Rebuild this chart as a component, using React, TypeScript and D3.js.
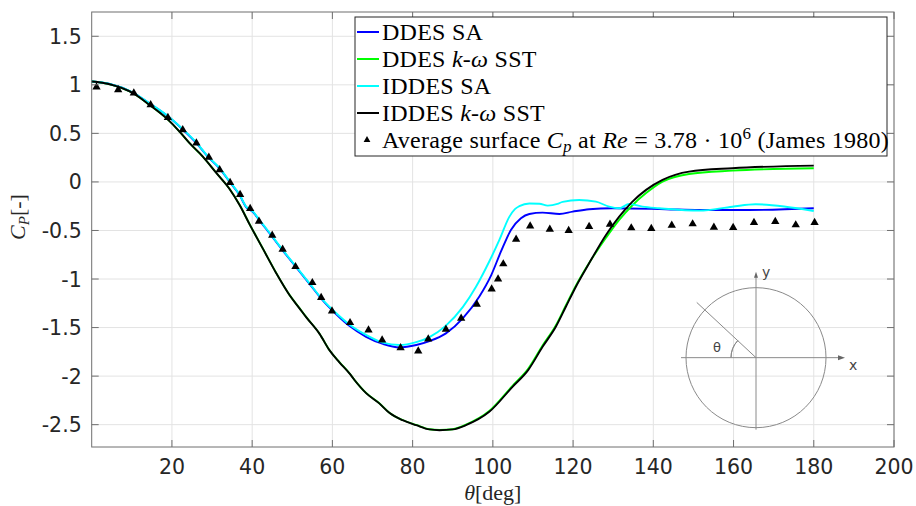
import React from 'react';
import * as d3 from 'd3';

// ---------------- data ----------------
const ddesSaTheta = [0, 4.5, 10.3, 14.4, 18.6, 22.7, 26.1, 29.0, 31.9, 34.4, 36.9, 38.5, 40.2, 41.8, 43.5, 47.6, 51.0, 54.3, 57.6, 60.9, 64.3, 68.4, 72.6, 76.7, 80.9, 84.2, 88.3, 92.5, 96.6, 99.6, 102.0, 104.5, 107.0, 109.1, 112.4, 116.6, 119.9, 124.0, 129.8, 143.1, 151.5, 163.9, 180];
const ddesSaCp = [1.034, 1.008, 0.918, 0.808, 0.688, 0.54, 0.40, 0.257, 0.137, 0.0, -0.138, -0.26, -0.31, -0.396, -0.485, -0.705, -0.88, -1.05, -1.22, -1.36, -1.485, -1.595, -1.668, -1.704, -1.68, -1.64, -1.56, -1.405, -1.182, -0.959, -0.719, -0.495, -0.374, -0.330, -0.316, -0.330, -0.306, -0.281, -0.271, -0.281, -0.289, -0.289, -0.271];

const iddesSaTheta = [0, 4.5, 10.3, 14.4, 18.6, 22.7, 26.1, 29.0, 31.9, 34.4, 36.9, 38.5, 40.2, 41.8, 43.5, 47.6, 51.0, 54.3, 57.6, 60.9, 64.3, 68.4, 72.6, 76.7, 80.9, 84.2, 88.3, 92.5, 95.8, 99.1, 101.6, 104.1, 105.5, 106.6, 109.1, 111.6, 113.7, 116.1, 117.4, 121.5, 125.7, 129.0, 131.5, 134.0, 137.3, 141.5, 151.5, 159.7, 165.5, 173.0, 180];
const iddesSaCp = [1.034, 1.010, 0.921, 0.811, 0.691, 0.543, 0.405, 0.261, 0.141, 0.003, -0.134, -0.255, -0.306, -0.392, -0.48, -0.70, -0.875, -1.045, -1.215, -1.35, -1.47, -1.575, -1.655, -1.68, -1.65, -1.598, -1.48, -1.29, -1.08, -0.82, -0.60, -0.36, -0.28, -0.25, -0.222, -0.225, -0.244, -0.227, -0.205, -0.186, -0.203, -0.255, -0.271, -0.227, -0.255, -0.271, -0.296, -0.255, -0.230, -0.255, -0.299];

const iddesSstTheta = [0, 4.5, 10.3, 14.4, 18.6, 21.9, 24.4, 27.7, 31.1, 34.4, 36.9, 39.4, 42.7, 46.0, 49.3, 51.8, 53.5, 56.8, 59.3, 61.8, 64.3, 65.5, 68.4, 71.7, 74.2, 77.5, 80.9, 84.2, 86.7, 90.0, 93.3, 99.1, 104.9, 108.8, 112.4, 115.7, 118.2, 120.7, 124.0, 128.2, 131.5, 134.8, 138.2, 142.3, 148.9, 159.7, 180];
const iddesSstCp = [1.034, 1.006, 0.914, 0.794, 0.657, 0.519, 0.399, 0.261, 0.090, -0.075, -0.24, -0.44, -0.69, -0.94, -1.165, -1.302, -1.395, -1.565, -1.735, -1.86, -1.975, -2.04, -2.175, -2.281, -2.378, -2.454, -2.505, -2.549, -2.557, -2.549, -2.505, -2.368, -2.110, -1.938, -1.698, -1.492, -1.286, -1.079, -0.838, -0.546, -0.358, -0.203, -0.082, 0.021, 0.106, 0.141, 0.168];

const ddesSstTheta = [0, 4.5, 10.3, 14.4, 18.6, 21.9, 24.4, 27.7, 31.1, 34.4, 36.9, 39.4, 42.7, 46.0, 49.3, 51.8, 53.5, 56.8, 59.3, 61.8, 64.3, 65.5, 68.4, 71.7, 74.2, 77.5, 80.9, 84.2, 86.7, 90.0, 93.3, 99.1, 104.9, 108.8, 112.4, 115.7, 118.2, 120.7, 124.0, 128.2, 131.5, 134.8, 138.2, 142.3, 148.9, 159.7, 180];
const ddesSstCp = [1.034, 1.006, 0.914, 0.794, 0.657, 0.519, 0.399, 0.261, 0.092, -0.073, -0.238, -0.438, -0.688, -0.938, -1.163, -1.300, -1.393, -1.563, -1.733, -1.858, -1.973, -2.038, -2.173, -2.279, -2.376, -2.452, -2.503, -2.547, -2.555, -2.547, -2.500, -2.360, -2.100, -1.925, -1.685, -1.478, -1.272, -1.068, -0.835, -0.575, -0.390, -0.240, -0.115, 0.003, 0.082, 0.116, 0.141];

const expTheta = [1.2, 6.6, 10.5, 14.7, 19.0, 22.7, 26.1, 29.2, 31.9, 34.5, 37.0, 39.5, 41.7, 45.0, 47.6, 50.8, 55.0, 57.2, 59.9, 64.4, 69.0, 72.4, 77.0, 81.4, 83.9, 88.3, 92.1, 96.0, 99.7, 101.3, 102.6, 105.8, 109.3, 114.2, 118.9, 124.0, 129.2, 134.5, 139.5, 144.6, 149.8, 155.1, 159.9, 165.1, 170.4, 175.5, 180.2];
const expCp = [0.976, 0.948, 0.914, 0.794, 0.663, 0.536, 0.399, 0.254, 0.124, -0.007, -0.131, -0.275, -0.405, -0.550, -0.694, -0.873, -1.038, -1.192, -1.330, -1.450, -1.526, -1.629, -1.708, -1.742, -1.619, -1.519, -1.405, -1.261, -1.103, -1.0, -0.845, -0.591, -0.454, -0.488, -0.502, -0.460, -0.436, -0.474, -0.481, -0.447, -0.433, -0.467, -0.471, -0.419, -0.409, -0.443, -0.419];

const xTicks = [20, 40, 60, 80, 100, 120, 140, 160, 180, 200];
const yTicks = [-2.5, -2, -1.5, -1, -0.5, 0, 0.5, 1, 1.5];
const seriesColors = ['#0000ff', '#00ff00', '#00ffff', '#000000'];

// inset sketch anchor (data units)
const insetCenter = [165.6, -1.81];

const W = 916;
const H = 506;
const PL = 91.7, PR = 894, PT = 12, PB = 447;
const serif = "'Liberation Serif', 'Times New Roman', serif";
const sans = "'DejaVu Sans', sans-serif";

export default function App() {
  const x = d3.scaleLinear().domain([0, 200]).range([PL, PR]);
  const y = d3.scaleLinear().domain([-2.73, 1.75]).range([PB, PT]);

  const mk = (th: number[], cp: number[]) =>
    d3.line<number>().x((_, i) => x(th[i])).y((d) => y(d)).curve(d3.curveMonotoneX)(cp) || '';

  const series = [
    { th: ddesSaTheta, cp: ddesSaCp, color: seriesColors[0] },
    { th: ddesSstTheta, cp: ddesSstCp, color: seriesColors[1] },
    { th: iddesSaTheta, cp: iddesSaCp, color: seriesColors[2] },
    { th: iddesSstTheta, cp: iddesSstCp, color: seriesColors[3] },
  ];

  const tri = d3.symbol().type(d3.symbolTriangle).size(30)() || '';
  const tickLen = 7;
  const axisColor = '#6f6f6f';
  const gridColor = '#e3e3e3';

  // legend
  const LX = 355, LY = 17, LW = 532, LH = 139;
  const rowY = (i: number) => LY + 15 + i * 27;

  // inset
  const cx = x(insetCenter[0]);
  const cy = y(insetCenter[1]);
  const R = 70;
  const ang = (137 * Math.PI) / 180;
  const arc = d3.arc()({ innerRadius: 25, outerRadius: 25, startAngle: -Math.PI / 2, endAngle: -Math.PI / 2 + (180 - 137) * Math.PI / 180 } as any) || '';

  return (
    <svg width={W} height={H} style={{ position: 'absolute', left: 0, top: 0, background: '#fff' }}>
      <rect x={0} y={0} width={W} height={H} fill="#fff" />
      {/* grid */}
      {xTicks.map((t) => (
        <line key={'gx' + t} x1={x(t)} x2={x(t)} y1={PT} y2={PB} stroke={gridColor} strokeWidth={1} />
      ))}
      {yTicks.map((t) => (
        <line key={'gy' + t} x1={PL} x2={PR} y1={y(t)} y2={y(t)} stroke={gridColor} strokeWidth={1} />
      ))}

      {/* inset sketch */}
      <g stroke="#8a8a8a" strokeWidth={1} fill="none">
        <circle cx={cx} cy={cy} r={R} />
        <line x1={cx - 75} x2={cx + 84} y1={cy} y2={cy} />
        <line x1={cx} x2={cx} y1={cy + 72} y2={cy - 82} />
        <line x1={cx} y1={cy} x2={cx + 81 * Math.cos(ang)} y2={cy - 81 * Math.sin(ang)} />
        <path d={arc} transform={`translate(${cx},${cy})`} />
      </g>
      <path d={`M${cx + 89},${cy} L${cx + 82},${cy - 2.5} L${cx + 82},${cy + 2.5} Z`} fill="#666" />
      <path d={`M${cx},${cy - 86} L${cx - 2},${cy - 80} L${cx + 2},${cy - 80} Z`} fill="#666" />
      <text x={cx + 93} y={cy + 12} fontFamily={sans} fontSize={14} fill="#444">x</text>
      <text x={cx + 6} y={cy - 81} fontFamily={sans} fontSize={14} fill="#444">y</text>
      <text x={cx - 43} y={cy - 6} fontFamily={sans} fontSize={13} fill="#444">θ</text>

      {/* curves */}
      {series.map((s, i) => (
        <path key={'s' + i} d={mk(s.th, s.cp)} fill="none" stroke={s.color} strokeWidth={1.9} strokeLinejoin="round" />
      ))}
      {/* experiment */}
      {expTheta.map((t, i) => (
        <path key={'e' + i} d={tri} transform={`translate(${x(t)},${y(expCp[i])})`} fill="#000" />
      ))}

      {/* frame */}
      <rect x={PL} y={PT} width={PR - PL} height={PB - PT} fill="none" stroke={axisColor} strokeWidth={1} />
      {xTicks.map((t) => (
        <g key={'tx' + t}>
          <line x1={x(t)} x2={x(t)} y1={PB} y2={PB - tickLen} stroke={axisColor} />
          <line x1={x(t)} x2={x(t)} y1={PT} y2={PT + tickLen} stroke={axisColor} />
          <text x={x(t)} y={PB + 27} textAnchor="middle" fontFamily={sans} fontSize={20.5} fill="#262626">{t}</text>
        </g>
      ))}
      {yTicks.map((t) => (
        <g key={'ty' + t}>
          <line x1={PL} x2={PL + tickLen} y1={y(t)} y2={y(t)} stroke={axisColor} />
          <line x1={PR} x2={PR - tickLen} y1={y(t)} y2={y(t)} stroke={axisColor} />
          <text x={PL - 10} y={y(t) + 7.5} textAnchor="end" fontFamily={sans} fontSize={20.5} fill="#262626">{String(t)}</text>
        </g>
      ))}

      {/* axis labels */}
      <text x={(PL + PR) / 2} y={500} textAnchor="middle" fontFamily={serif} fontSize={22} fill="#262626">
        <tspan fontStyle="italic">θ</tspan>[deg]
      </text>
      <text transform={`translate(25,217) rotate(-90)`} textAnchor="middle" fontFamily={serif} fontSize={22} fill="#262626">
        <tspan fontStyle="italic">C</tspan>
        <tspan fontStyle="italic" fontSize={15} dy={4}>P</tspan>
        <tspan dy={-4}>[-]</tspan>
      </text>

      {/* legend */}
      <rect x={LX} y={LY} width={LW} height={LH} fill="#fff" stroke="#262626" strokeWidth={1} />
      {[0, 1, 2, 3].map((i) => (
        <line key={'ll' + i} x1={LX + 2} x2={LX + 24} y1={rowY(i)} y2={rowY(i)} stroke={seriesColors[i]} strokeWidth={2} />
      ))}
      <path d={d3.symbol().type(d3.symbolTriangle).size(20)() || ''} transform={`translate(${LX + 12},${rowY(4)})`} fill="#000" />
      <g fontFamily={serif} fontSize={24} fill="#000" letterSpacing={0.25}>
        <text x={LX + 27} y={rowY(0) + 8}>DDES SA</text>
        <text x={LX + 27} y={rowY(1) + 8}>
          DDES <tspan fontStyle="italic">k</tspan>-<tspan fontStyle="italic">ω</tspan> SST
        </text>
        <text x={LX + 27} y={rowY(2) + 8}>IDDES SA</text>
        <text x={LX + 27} y={rowY(3) + 8}>
          IDDES <tspan fontStyle="italic">k</tspan>-<tspan fontStyle="italic">ω</tspan> SST
        </text>
        <text x={LX + 27} y={rowY(4) + 8}>
          Average surface <tspan fontStyle="italic">C</tspan>
          <tspan fontStyle="italic" fontSize={17} dy={4}>p</tspan>
          <tspan dy={-4}> at </tspan>
          <tspan fontStyle="italic">Re</tspan> = 3.78 · 10
          <tspan fontSize={17} dy={-9}>6</tspan>
          <tspan dy={9}> (James 1980)</tspan>
        </text>
      </g>
    </svg>
  );
}
